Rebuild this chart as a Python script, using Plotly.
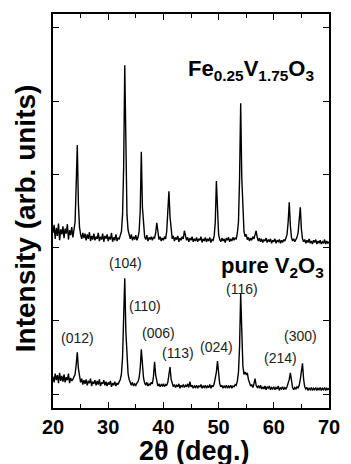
import plotly.graph_objects as go

# 2-theta sampling grid (deg.), 0.2 deg step from 20 to 70
two_theta = [round(20 + 0.2 * i, 1) for i in range(251)]

# Fe0.25V1.75O3 pattern (offset trace)
fe_counts = [
    2.20, 2.31, 2.12, 2.27, 2.16, 2.33, 2.10, 2.25, 2.18, 2.29,
    2.13, 2.26, 2.19, 2.32, 2.11, 2.24, 2.17, 2.28, 2.14, 2.22,
    2.35, 2.85, 3.40, 2.60, 2.28, 2.18, 2.12, 2.20, 2.13, 2.19,
    2.10, 2.18, 2.12, 2.21, 2.09, 2.16, 2.11, 2.19, 2.10, 2.15,
    2.12, 2.20, 2.09, 2.15, 2.11, 2.19, 2.08, 2.16, 2.12, 2.18,
    2.09, 2.15, 2.11, 2.20, 2.08, 2.14, 2.10, 2.18, 2.09, 2.13,
    2.12, 2.17, 2.22, 2.45, 3.10, 4.49, 3.20, 2.45, 2.24, 2.16,
    2.12, 2.18, 2.10, 2.15, 2.11, 2.17, 2.10, 2.14, 2.22, 2.50,
    3.31, 2.55, 2.25, 2.15, 2.11, 2.17, 2.09, 2.14, 2.11, 2.15,
    2.10, 2.14, 2.13, 2.20, 2.34, 2.19, 2.11, 2.15, 2.09, 2.13,
    2.10, 2.15, 2.12, 2.22, 2.45, 2.77, 2.42, 2.20, 2.12, 2.16,
    2.09, 2.14, 2.11, 2.16, 2.08, 2.13, 2.10, 2.15, 2.12, 2.23,
    2.17, 2.10, 2.14, 2.08, 2.13, 2.10, 2.15, 2.08, 2.12, 2.09,
    2.14, 2.08, 2.12, 2.10, 2.15, 2.07, 2.12, 2.09, 2.14, 2.08,
    2.12, 2.09, 2.14, 2.07, 2.11, 2.10, 2.16, 2.35, 2.91, 2.38,
    2.18, 2.11, 2.08, 2.13, 2.09, 2.12, 2.07, 2.13, 2.10, 2.14,
    2.08, 2.12, 2.09, 2.14, 2.10, 2.13, 2.12, 2.20, 2.35, 2.95,
    3.97, 2.95, 2.40, 2.22, 2.15, 2.18, 2.11, 2.14, 2.09, 2.13,
    2.10, 2.15, 2.12, 2.18, 2.23, 2.14, 2.09, 2.13, 2.08, 2.12,
    2.07, 2.11, 2.09, 2.13, 2.07, 2.11, 2.08, 2.12, 2.06, 2.10,
    2.08, 2.12, 2.06, 2.10, 2.08, 2.11, 2.06, 2.10, 2.07, 2.11,
    2.09, 2.13, 2.18, 2.35, 2.62, 2.30, 2.14, 2.09, 2.12, 2.08,
    2.11, 2.14, 2.20, 2.38, 2.55, 2.25, 2.12, 2.08, 2.11, 2.06,
    2.10, 2.07, 2.12, 2.06, 2.09, 2.05, 2.10, 2.07, 2.11, 2.05,
    2.09, 2.06, 2.10, 2.05, 2.08, 2.06, 2.11, 2.05, 2.09, 2.06,
    2.08,
]

# pure V2O3 pattern
v2o3_counts = [
    0.24, 0.16, 0.28, 0.19, 0.26, 0.15, 0.29, 0.18, 0.25, 0.17,
    0.27, 0.16, 0.23, 0.19, 0.28, 0.15, 0.22, 0.18, 0.20, 0.24,
    0.27, 0.40, 0.57, 0.35, 0.22, 0.16, 0.21, 0.13, 0.19, 0.14,
    0.20, 0.12, 0.18, 0.15, 0.21, 0.11, 0.17, 0.14, 0.19, 0.12,
    0.18, 0.13, 0.20, 0.11, 0.16, 0.14, 0.19, 0.12, 0.17, 0.11,
    0.16, 0.13, 0.18, 0.10, 0.15, 0.12, 0.17, 0.11, 0.15, 0.13,
    0.17, 0.20, 0.28, 0.50, 1.05, 1.58, 0.85, 0.42, 0.28, 0.20,
    0.15, 0.12, 0.16, 0.11, 0.14, 0.12, 0.15, 0.17, 0.22, 0.35,
    0.61, 0.38, 0.22, 0.15, 0.12, 0.16, 0.11, 0.14, 0.12, 0.16,
    0.14, 0.24, 0.44, 0.26, 0.15, 0.11, 0.14, 0.10, 0.13, 0.11,
    0.14, 0.10, 0.13, 0.12, 0.16, 0.24, 0.37, 0.20, 0.13, 0.10,
    0.13, 0.09, 0.12, 0.10, 0.14, 0.08, 0.12, 0.10, 0.13, 0.09,
    0.12, 0.10, 0.14, 0.09, 0.17, 0.10, 0.12, 0.08, 0.11, 0.09,
    0.12, 0.08, 0.11, 0.10, 0.13, 0.08, 0.11, 0.09, 0.12, 0.08,
    0.11, 0.09, 0.13, 0.08, 0.12, 0.10, 0.14, 0.20, 0.30, 0.45,
    0.25, 0.14, 0.10, 0.12, 0.08, 0.11, 0.09, 0.12, 0.08, 0.11,
    0.09, 0.12, 0.08, 0.11, 0.10, 0.13, 0.12, 0.18, 0.30, 0.65,
    1.37, 0.70, 0.38, 0.27, 0.30, 0.27, 0.29, 0.20, 0.14, 0.11,
    0.13, 0.09, 0.14, 0.21, 0.12, 0.09, 0.11, 0.08, 0.12, 0.07,
    0.10, 0.07, 0.11, 0.06, 0.10, 0.08, 0.11, 0.06, 0.09, 0.07,
    0.10, 0.06, 0.09, 0.07, 0.11, 0.05, 0.09, 0.07, 0.10, 0.06,
    0.09, 0.07, 0.10, 0.14, 0.20, 0.29, 0.15, 0.09, 0.06, 0.09,
    0.07, 0.10, 0.08, 0.12, 0.20, 0.30, 0.42, 0.20, 0.10, 0.07,
    0.09, 0.05, 0.08, 0.06, 0.09, 0.05, 0.08, 0.06, 0.09, 0.05,
    0.08, 0.06, 0.09, 0.05, 0.08, 0.06, 0.09, 0.05, 0.08, 0.06,
    0.08,
]

# Miller index labels
hkl_text = ["(012)", "(104)", "(110)", "(006)", "(113)", "(024)", "(116)", "(214)", "(300)"]
hkl_x = [24.4, 33.1, 36.7, 39.2, 42.65, 49.6, 54.3, 61.3, 64.8]
hkl_y = [0.77, 1.79, 1.20, 0.83, 0.56, 0.64, 1.44, 0.49, 0.79]

x_ticks = [20, 30, 40, 50, 60, 70]

FONT = "Liberation Sans, Arial, sans-serif"

fig = go.Figure()
fig.add_trace(go.Scatter(x=two_theta, y=fe_counts, mode="lines",
                         line=dict(color="black", width=1.4), showlegend=False))
fig.add_trace(go.Scatter(x=two_theta, y=v2o3_counts, mode="lines",
                         line=dict(color="black", width=1.4), showlegend=False))

for t, xx, yy in zip(hkl_text, hkl_x, hkl_y):
    fig.add_annotation(x=xx, y=yy, text=t, showarrow=False,
                       font=dict(family=FONT, size=14, color="#222"))

fig.add_annotation(x=67.7, y=4.42, xanchor="right", yanchor="middle", showarrow=False,
                   text="<b>Fe<sub>0.25</sub>V<sub>1.75</sub>O<sub>3</sub></b>",
                   font=dict(family=FONT, size=22, color="black"))
fig.add_annotation(x=69.5, y=1.73, xanchor="right", yanchor="middle", showarrow=False,
                   text="<b>pure V<sub>2</sub>O<sub>3</sub></b>",
                   font=dict(family=FONT, size=22, color="black"))

# axis titles
fig.add_annotation(xref="paper", yref="paper", x=-0.101, y=0.482, textangle=-90,
                   xanchor="center", yanchor="middle", showarrow=False,
                   text="Intensity (arb. units)",
                   font=dict(family=FONT, size=28, color="black", weight="bold"))
fig.add_annotation(xref="paper", yref="paper", x=0.512, y=-0.11,
                   xanchor="center", yanchor="middle", showarrow=False,
                   text="2θ (deg.)",
                   font=dict(family=FONT, size=27, color="black", weight="bold"))

fig.update_layout(
    width=351, height=464,
    margin=dict(l=53, r=11, t=14, b=56),
    paper_bgcolor="white", plot_bgcolor="white",
    font=dict(family=FONT, color="black"),
)
fig.update_xaxes(
    range=[20, 70], tickvals=x_ticks, ticktext=[str(v) for v in x_ticks],
    ticks="inside", ticklen=6, tickwidth=1.3, tickcolor="black",
    minor=dict(ticks="inside", ticklen=4, tickwidth=1.2, tickcolor="black", dtick=5),
    showline=True, linecolor="black", linewidth=1.5, mirror="ticks",
    showgrid=False, zeroline=False,
    tickfont=dict(family=FONT, size=20, color="black", weight="bold"),
)
fig.update_yaxes(
    range=[-0.19, 5.19], tickvals=[0, 1, 2, 3, 4, 5], showticklabels=False,
    ticks="inside", ticklen=6, tickwidth=1.3, tickcolor="black",
    showline=True, linecolor="black", linewidth=1.5, mirror="ticks",
    showgrid=False, zeroline=False,
)

fig.write_html("out.html")
